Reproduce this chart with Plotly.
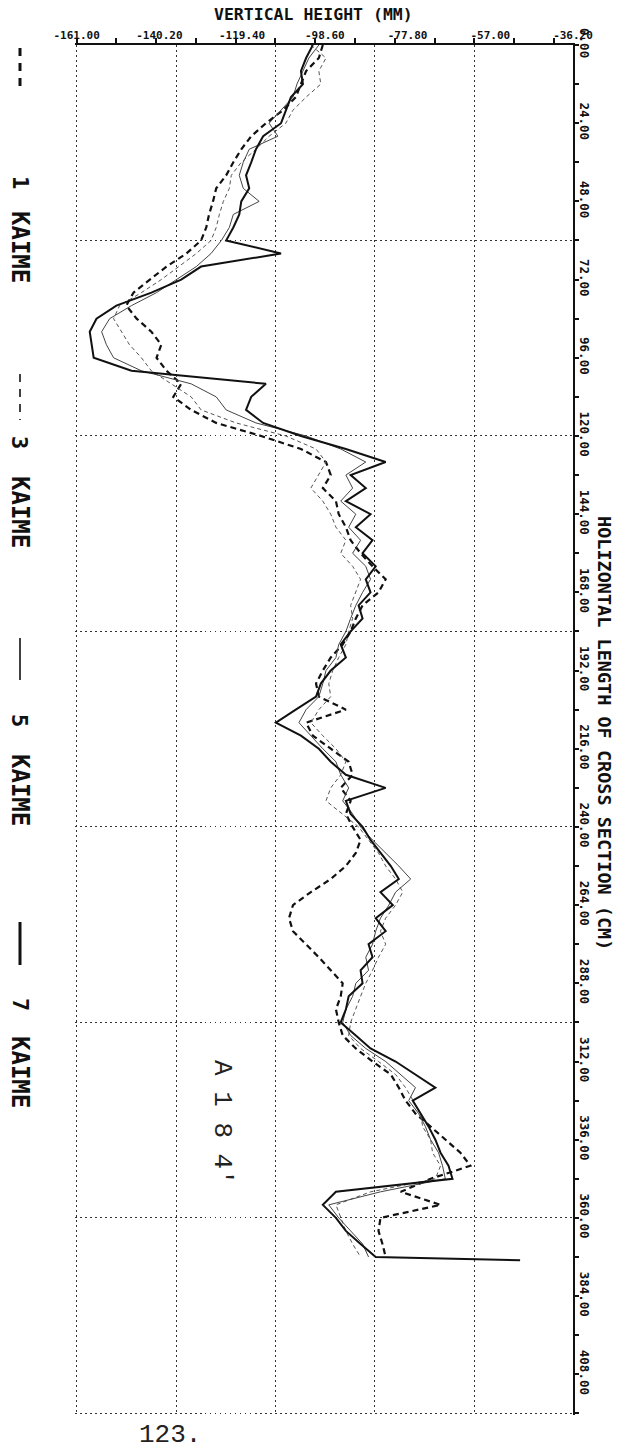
import plotly.graph_objects as go

# ---------------- data (horizontal length in cm, vertical height in mm) ----------------
length_cm = [0, 4, 8, 12, 16, 20, 24, 28, 32, 36, 40, 44, 48, 52, 56, 60, 64, 68, 72, 76,
             80, 84, 88, 92, 96, 100, 104, 108, 112, 116, 120, 124, 128, 132, 136, 140, 144, 148, 152, 156,
             160, 164, 168, 172, 176, 180, 184, 188, 192, 196, 200, 204, 208, 212, 216, 220, 224, 228, 232, 236,
             240, 244, 248, 252, 256, 260, 264, 268, 272, 276, 280, 284, 288, 292, 296, 300, 304, 308, 312, 316,
             320, 324, 328, 332, 336, 340, 344, 348, 352, 356, 360, 364, 368, 372]

kaime1 = [-99.1, -100.1, -103.3, -104.6, -105.9, -109.1, -113.4, -117.1, -119.6, -121.6,
          -123.4, -125.9, -126.7, -127.7, -128.4, -129.7, -133.4, -138.4, -142.7, -146.7,
          -148.5, -145.9, -142.2, -139.7, -140.9, -138.4, -134.7, -136.7, -132.2, -125.9,
          -114.6, -104.6, -98.3, -97.1, -99.1, -95.8, -95.1, -93.3, -92.1, -89.6,
          -86.6, -83.3, -85.1, -89.1, -90.8, -92.1, -94.1, -97.1, -99.1, -100.8,
          -100.1, -93.3, -103.3, -101.6, -97.1, -92.6, -91.6, -94.6, -92.1, -93.3,
          -91.6, -89.6, -90.8, -93.3, -97.1, -102.1, -106.6, -107.6, -106.6, -103.3,
          -100.1, -97.1, -94.1, -94.6, -95.8, -95.1, -94.1, -90.8, -86.6, -82.0,
          -80.0, -78.3, -75.8, -72.0, -68.3, -64.5, -62.0, -72.0, -79.5, -69.5,
          -84.6, -85.1, -84.1, -83.3]

kaime3 = [-102.1, -98.3, -100.1, -99.6, -103.3, -106.6, -108.4, -112.6, -115.9, -119.6,
          -122.1, -122.6, -124.1, -125.1, -125.9, -127.2, -130.9, -135.2, -139.7, -144.7,
          -150.2, -151.7, -149.7, -147.7, -144.7, -142.2, -137.2, -132.2, -129.7, -120.9,
          -108.4, -100.8, -98.3, -100.1, -102.1, -99.1, -97.1, -95.8, -93.3, -94.6,
          -91.6, -89.6, -90.8, -92.1, -91.6, -92.6, -93.3, -95.1, -96.6, -97.6,
          -97.1, -100.1, -102.1, -99.1, -95.8, -93.3, -94.6, -97.1, -98.3, -94.1,
          -90.1, -87.6, -85.1, -83.3, -80.8, -79.0, -80.8, -83.3, -84.6, -83.3,
          -85.1, -86.6, -88.3, -89.6, -90.8, -92.1, -92.6, -89.6, -85.1, -80.8,
          -78.3, -76.5, -74.5, -74.0, -72.0, -71.5, -69.5, -70.8, -87.1, -95.8,
          -94.6, -93.3, -91.6, -89.6]

kaime5 = [-100.1, -102.6, -104.1, -105.6, -106.6, -109.6, -112.6, -110.4, -117.6, -119.1,
          -120.1, -119.1, -115.1, -121.6, -122.6, -124.6, -127.2, -130.9, -135.9, -140.9,
          -147.2, -152.7, -154.7, -153.5, -151.7, -144.7, -132.2, -125.9, -123.4, -115.9,
          -103.3, -94.6, -88.3, -93.3, -91.6, -94.6, -90.8, -92.6, -89.6, -91.6,
          -88.3, -87.1, -89.1, -90.8, -92.1, -93.3, -95.1, -95.8, -98.3, -99.1,
          -100.1, -103.3, -105.1, -102.1, -99.1, -95.8, -94.6, -92.6, -94.1, -91.6,
          -89.6, -86.6, -83.3, -80.0, -77.0, -80.8, -82.5, -84.6, -85.8, -86.6,
          -88.3, -87.6, -90.8, -91.6, -93.3, -94.1, -92.1, -88.3, -83.3, -79.5,
          -75.8, -77.5, -75.0, -73.3, -72.0, -70.0, -69.0, -68.3, -84.6, -97.6,
          -95.1, -92.1, -89.1, -87.6]

kaime7_length = length_cm + [373]
kaime7 = [-101.6, -103.3, -104.6, -104.1, -107.1, -108.4, -109.6, -114.1, -115.9, -117.1,
          -118.4, -117.6, -119.6, -120.1, -121.6, -123.4, -109.6, -129.7, -134.7, -142.2,
          -151.0, -156.0, -157.7, -157.2, -156.7, -147.2, -113.4, -117.1, -118.4, -114.1,
          -104.6, -93.3, -83.3, -92.1, -88.3, -93.3, -87.1, -90.8, -86.6, -89.1,
          -85.8, -88.3, -87.1, -90.1, -89.1, -92.1, -94.6, -93.3, -97.1, -99.6,
          -100.8, -105.9, -110.9, -104.6, -100.1, -97.1, -93.3, -83.3, -93.3, -92.1,
          -89.1, -87.1, -84.6, -82.0, -80.0, -84.6, -81.5, -85.8, -83.3, -87.6,
          -86.6, -89.6, -89.1, -92.6, -93.3, -94.6, -90.8, -87.1, -80.8, -75.8,
          -70.8, -76.5, -74.5, -72.5, -70.8, -69.5, -67.5, -66.5, -95.8, -99.1,
          -95.8, -93.3, -89.6, -85.8, -49.5]

# ---------------- axis ticks / labels ----------------
x_label_vals = [-161.0, -140.2, -119.4, -98.6, -77.8, -57.0, -36.2]
x_label_text = ["-161.00", "-140.20", "-119.40", "-98.60", "-77.80", "-57.00", "-36.20"]
x_tick_marks = [-161, -151, -141, -131, -121, -111, -101, -91, -81, -71, -61, -51, -41]
x_grid_vals = [-161, -136, -111, -86, -61]

y_label_vals = [0, 24, 48, 72, 96, 120, 144, 168, 192, 216, 240, 264, 288, 312, 336, 360, 384, 408]
y_label_text = ["0.00", "24.00", "48.00", "72.00", "96.00", "120.00", "144.00", "168.00", "192.00",
                "216.00", "240.00", "264.00", "288.00", "312.00", "336.00", "360.00", "384.00", "408.00"]
y_tick_marks = [0, 12, 24, 36, 48, 60, 72, 84, 96, 108, 120, 132, 144, 156, 168, 180, 192, 204, 216,
                228, 240, 252, 264, 276, 288, 300, 312, 324, 336, 348, 360, 372, 384, 396, 408, 420]
y_grid_vals = [60, 120, 180, 240, 300, 360, 420]

X_RANGE = [-161.4, -36.2]
Y_RANGE = [420.5, 0]

# ---------------- figure geometry ----------------
W, H = 617, 1453
ML, MR, MT, MB = 75, 44, 45, 38
PW, PH = W - ML - MR, H - MT - MB


def px_x(px):
    return (px - ML) / PW


def px_y(py):
    return 1 - (py - MT) / PH


MONO = "DejaVu Sans Mono"
THIN = "Liberation Mono"

fig = go.Figure()

fig.add_trace(go.Scatter(x=kaime1, y=length_cm, mode="lines", name="1 KAIME",
                         line=dict(color="#111111", width=2.2, dash="6px,4px")))
fig.add_trace(go.Scatter(x=kaime3, y=length_cm, mode="lines", name="3 KAIME",
                         line=dict(color="#555555", width=1, dash="4px,3px")))
fig.add_trace(go.Scatter(x=kaime5, y=length_cm, mode="lines", name="5 KAIME",
                         line=dict(color="#444444", width=1)))
fig.add_trace(go.Scatter(x=kaime7, y=kaime7_length, mode="lines", name="7 KAIME",
                         line=dict(color="#111111", width=2)))
# empty trace to activate the overlay axes (ticks + labels)
fig.add_trace(go.Scatter(x=[], y=[], xaxis="x2", yaxis="y2", showlegend=False))

grid_style = dict(showgrid=True, gridcolor="#333333", gridwidth=1, griddash="1.5px,3.5px",
                  showticklabels=False, ticks="", showline=False, zeroline=False)

fig.update_layout(
    width=W, height=H,
    margin=dict(l=ML, r=MR, t=MT, b=MB, pad=0),
    paper_bgcolor="white", plot_bgcolor="white",
    showlegend=False,
    xaxis=dict(range=X_RANGE, tickvals=x_grid_vals, **grid_style),
    yaxis=dict(range=Y_RANGE, tickvals=y_grid_vals, **grid_style),
    xaxis2=dict(range=X_RANGE, overlaying="x", anchor="y2", side="top",
                showgrid=False, zeroline=False,
                showline=True, linecolor="#111111", linewidth=2,
                tickvals=x_label_vals, ticktext=x_label_text, ticks="",
                tickfont=dict(family=MONO, size=11, color="#111111", weight="bold"),
                minor=dict(tickvals=x_tick_marks, ticks="outside", ticklen=5,
                           tickwidth=1.5, tickcolor="#111111", showgrid=False)),
    yaxis2=dict(range=Y_RANGE, overlaying="y", anchor="x2", side="right",
                showgrid=False, zeroline=False,
                showline=True, linecolor="#111111", linewidth=2,
                tickvals=y_label_vals, ticktext=y_label_text, ticks="", tickangle=90,
                tickfont=dict(family=MONO, size=12.5, color="#111111", weight="bold"),
                minor=dict(tickvals=y_tick_marks, ticks="outside", ticklen=4,
                           tickwidth=1.5, tickcolor="#111111", showgrid=False)),
)


def note(text, px, py, size, family=MONO, angle=0, bold=True, color="#111111"):
    font = dict(family=family, size=size, color=color)
    if bold:
        font["weight"] = "bold"
    return dict(text=text, x=px_x(px), y=px_y(py), xref="paper", yref="paper",
                xanchor="center", yanchor="middle", showarrow=False,
                textangle=angle, font=font)


annotations = [
    note("VERTICAL HEIGHT (MM)", 313, 15, 16.5),
    note("HOLIZONTAL LENGTH OF CROSS SECTION (CM)", 605, 733, 18.5, angle=90),
    note("A 1 8 4'", 222, 1122, 26, family=THIN, angle=90, bold=False, color="#222222"),
    note("123.", 170, 1435, 26, family=THIN, bold=False, color="#222222"),
]

legend_entries = [
    ("1", 48, 90, 182, 247, 3, "8px,7px"),
    ("3", 374, 420, 442, 512, 1.6, "8px,7px"),
    ("5", 638, 680, 720, 790, 1.6, "solid"),
    ("7", 922, 965, 1004, 1072, 3, "solid"),
]
shapes = []
for num, s0, s1, ny, ky, lw, dash in legend_entries:
    shapes.append(dict(type="line", xref="paper", yref="paper",
                       x0=px_x(20), x1=px_x(20), y0=px_y(s0), y1=px_y(s1),
                       line=dict(color="#111111", width=lw, dash=dash)))
    annotations.append(note(num, 20, ny, 22, angle=90))
    annotations.append(note("KAIME", 20, ky, 24, angle=90))

fig.update_layout(annotations=annotations, shapes=shapes)

fig.write_html("out.html")
